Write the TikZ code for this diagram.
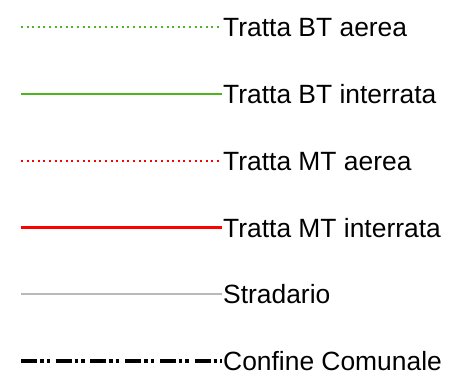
\documentclass[tikz,border=0pt]{standalone}
\usepackage{fontspec}
\setmainfont{Liberation Sans}
\definecolor{btgreen}{RGB}{77,181,29}
\definecolor{mtred}{RGB}{255,0,0}
\definecolor{roadgray}{RGB}{185,185,185}
\tikzset{
  lbl/.style={anchor=base west, inner sep=0pt, font=\fontsize{26.4}{30}\selectfont, text=black},
  aerea/.style={line width=2pt, dash pattern=on 2pt off 3.6pt},
  interrata/.style={line width=2.6pt},
  confine/.style={line width=4pt, dash pattern=on 16pt off 3pt on 3.5pt off 3pt on 3.5pt off 5.7pt}
}
\begin{document}
\begin{tikzpicture}[x=1pt,y=-1pt]
\useasboundingbox (0,0) rectangle (462,380);
% rows
\coordinate (s1) at (21,27.3);  \coordinate (e1) at (222,27.3);
\coordinate (s2) at (21,93.8);  \coordinate (e2) at (222,93.8);
\coordinate (s3) at (21,160.5); \coordinate (e3) at (222,160.5);
\coordinate (s4) at (21,227.5); \coordinate (e4) at (222,227.5);
\coordinate (s5) at (21,294.2); \coordinate (e5) at (222,294.2);
\coordinate (s6) at (21,361);   \coordinate (e6) at (222,361);
\draw[aerea, btgreen] (s1) -- (e1);
\draw[interrata, btgreen] (s2) -- (e2);
\draw[aerea, mtred] (s3) -- (e3);
\draw[interrata, mtred] (s4) -- (e4);
\draw[line width=2.2pt, roadgray] (s5) -- (e5);
\draw[confine, black] (s6) -- (e6);
\node[lbl] (t1) at (223,36.8) {Tratta BT aerea};
\node[lbl] (t2) at (223,103.3) {Tratta BT interrata};
\node[lbl] (t3) at (223,170) {Tratta MT aerea};
\node[lbl] (t4) at (223,237) {Tratta MT interrata};
\node[lbl] (t5) at (223,303.7) {Stradario};
\node[lbl] (t6) at (223,370.5) {Confine Comunale};
\end{tikzpicture}
\end{document}
